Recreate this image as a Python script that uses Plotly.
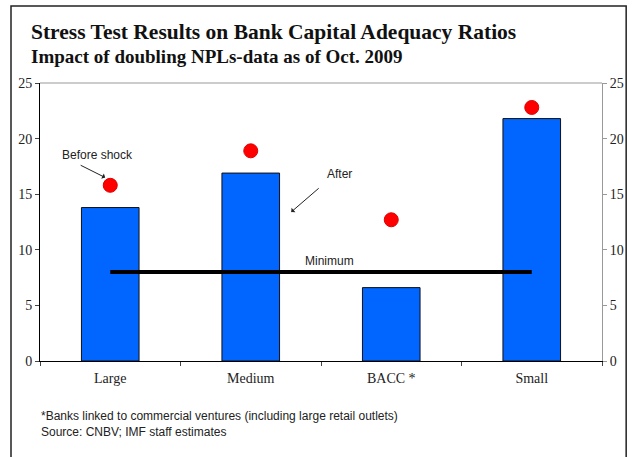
import plotly.graph_objects as go

# data
categories = ["Large", "Medium", "BACC *", "Small"]
after_shock = [13.8, 16.9, 6.6, 21.8]
before_shock = [15.8, 18.9, 12.7, 22.8]
minimum = [8, 8, 8, 8]
y_ticks = [0, 5, 10, 15, 20, 25]

serif = "Liberation Serif, Times New Roman, serif"
sans = "Liberation Sans Narrow, Arial Narrow, Liberation Sans, sans-serif"

fig = go.Figure()

# after-shock bars
fig.add_trace(go.Bar(
    x=categories, y=after_shock, width=0.41,
    marker=dict(color="#0066ff", line=dict(color="#111111", width=1)),
    showlegend=False,
))

# minimum requirement line
fig.add_trace(go.Scatter(
    x=categories, y=minimum, mode="lines",
    line=dict(color="black", width=4),
    showlegend=False,
))

# before-shock points
fig.add_trace(go.Scatter(
    x=categories, y=before_shock, mode="markers",
    marker=dict(color="#ff0000", size=14, line=dict(color="#e00000", width=1)),
    showlegend=False,
))

# invisible trace to carry the right-hand axis
fig.add_trace(go.Scatter(
    x=categories, y=minimum, yaxis="y2", mode="markers",
    marker=dict(opacity=0), hoverinfo="skip", showlegend=False,
))

label_font = dict(family=sans, size=12, color="#222")

fig.update_layout(
    width=636, height=457,
    margin=dict(l=40, r=34, t=83, b=96),
    paper_bgcolor="white", plot_bgcolor="white",
    xaxis=dict(
        type="category", range=[-0.5, 3.5], tickson="boundaries",
        ticks="outside", ticklen=4, tickcolor="#444",
        showline=True, linecolor="black", linewidth=1,
        showgrid=False, zeroline=False, ticklabelstandoff=4,
        tickfont=dict(family=serif, size=14, color="#222"),
    ),
    yaxis=dict(
        range=[0, 25], tickvals=y_ticks, ticks="outside", ticklen=4,
        tickcolor="#444", showline=True, linecolor="black", linewidth=1,
        showgrid=False, zeroline=False,
        tickfont=dict(family=serif, size=14, color="#222"),
    ),
    yaxis2=dict(
        range=[0, 25], tickvals=y_ticks, overlaying="y", side="right",
        ticks="outside", ticklen=4, tickcolor="#999",
        showline=True, linecolor="#999", linewidth=1,
        showgrid=False, zeroline=False,
        tickfont=dict(family=serif, size=14, color="#222"),
    ),
    shapes=[
        # outer frame
        dict(type="rect", xref="paper", yref="paper",
             x0=-0.0516, x1=1.043, y0=-0.4, y1=1.277,
             line=dict(color="#222", width=1.5)),
        # top edge of the plot area
        dict(type="line", xref="paper", yref="paper",
             x0=0, x1=1, y0=1, y1=1, line=dict(color="#999", width=1)),
    ],
    annotations=[
        dict(text="<b>Stress Test Results on Bank Capital Adequacy Ratios</b>",
             xref="paper", yref="paper", x=-0.02, y=1.183, xanchor="left",
             yanchor="middle", showarrow=False,
             font=dict(family=serif, size=21.5, color="#111")),
        dict(text="<b>Impact of doubling NPLs-data as of Oct. 2009</b>",
             xref="paper", yref="paper", x=-0.02, y=1.097, xanchor="left",
             yanchor="middle", showarrow=False,
             font=dict(family=serif, size=19, color="#111")),
        # before shock label and arrow
        dict(text="Before shock", x=-0.09, y=18.5, xref="x", yref="y",
             showarrow=False, font=label_font),
        dict(text="", x=-0.036, y=16.5, ax=-26, ay=-13, xref="x", yref="y",
             showarrow=True, arrowhead=1, arrowsize=1, arrowwidth=1,
             arrowcolor="#222"),
        # after label and arrow
        dict(text="After", x=1.63, y=16.8, xref="x", yref="y",
             showarrow=False, font=label_font),
        dict(text="", x=1.288, y=13.4, ax=29, ay=-25, xref="x", yref="y",
             showarrow=True, arrowhead=1, arrowsize=1, arrowwidth=1,
             arrowcolor="#222"),
        dict(text="Minimum", x=1.558, y=9.0, xref="x", yref="y",
             showarrow=False, font=label_font),
        dict(text="*Banks linked to commercial ventures (including large retail outlets)"
                  "<br>Source: CNBV; IMF staff estimates",
             xref="paper", yref="paper", x=-0.002, y=-0.165, xanchor="left",
             yanchor="top", align="left", showarrow=False,
             font=label_font),
    ],
)

fig.write_html("out.html", config={"displayModeBar": False},
               post_script="document.body.style.margin='0';")
